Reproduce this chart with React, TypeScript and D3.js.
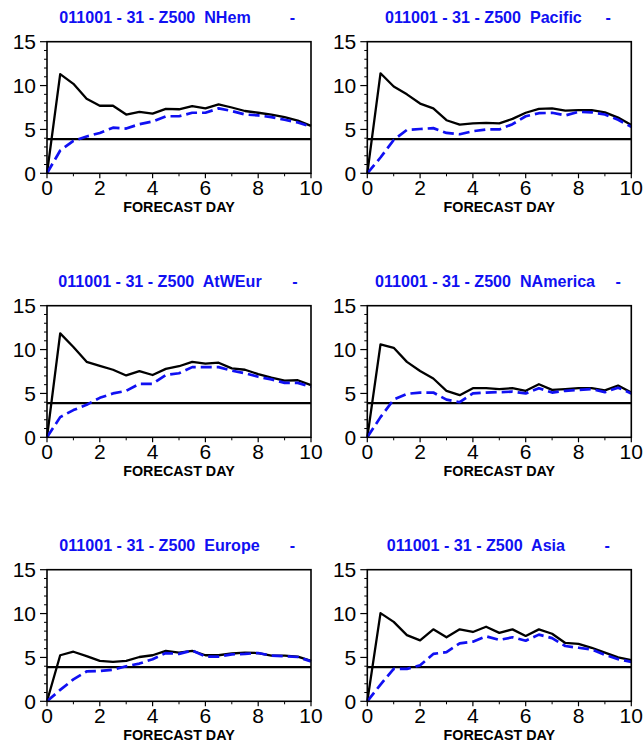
import React from "react";
import * as d3 from "d3";

// forecast days (x values, every half day)
const days = [0, 0.5, 1, 1.5, 2, 2.5, 3, 3.5, 4, 4.5, 5, 5.5, 6, 6.5, 7, 7.5, 8, 8.5, 9, 9.5, 10];

const regions = ["NHem", "Pacific", "AtWEur", "NAmerica", "Europe", "Asia"];

// solid black curve per region
const nhemSolid = [0, 11.3, 10.2, 8.5, 7.7, 7.7, 6.7, 7.0, 6.8, 7.35, 7.3, 7.65, 7.4, 7.85, 7.5, 7.1, 6.9, 6.7, 6.4, 6.0, 5.4];
const pacificSolid = [0, 11.4, 9.9, 9.0, 7.95, 7.4, 6.05, 5.55, 5.7, 5.75, 5.7, 6.2, 6.9, 7.35, 7.4, 7.15, 7.2, 7.2, 6.95, 6.35, 5.5];
const atweurSolid = [0, 11.85, 10.3, 8.6, 8.15, 7.7, 7.05, 7.55, 7.1, 7.8, 8.1, 8.6, 8.4, 8.5, 7.85, 7.7, 7.2, 6.8, 6.45, 6.5, 5.95];
const namericaSolid = [0, 10.6, 10.2, 8.6, 7.55, 6.7, 5.3, 4.8, 5.6, 5.6, 5.5, 5.6, 5.3, 6.05, 5.4, 5.5, 5.6, 5.6, 5.35, 5.9, 5.1];
const europeSolid = [0, 5.25, 5.65, 5.15, 4.6, 4.5, 4.6, 5.05, 5.25, 5.75, 5.55, 5.75, 5.25, 5.25, 5.45, 5.55, 5.5, 5.2, 5.2, 5.1, 4.6];
const asiaSolid = [0, 10.05, 9.05, 7.55, 6.95, 8.2, 7.3, 8.2, 7.9, 8.5, 7.8, 8.2, 7.45, 8.2, 7.7, 6.65, 6.55, 6.1, 5.55, 5.0, 4.7];

// dashed blue curve per region
const nhemDashed = [0, 2.6, 3.7, 4.2, 4.6, 5.2, 5.1, 5.6, 5.9, 6.5, 6.5, 6.9, 6.9, 7.4, 7.1, 6.7, 6.6, 6.4, 6.1, 5.8, 5.3];
const pacificDashed = [0, 1.8, 3.8, 4.95, 5.05, 5.15, 4.6, 4.45, 4.8, 5.0, 5.0, 5.6, 6.5, 6.85, 6.9, 6.6, 7.0, 6.95, 6.7, 6.1, 5.3];
const atweurDashed = [0, 2.3, 3.1, 3.7, 4.5, 5.0, 5.3, 6.1, 6.1, 7.1, 7.3, 8.0, 8.0, 8.0, 7.6, 7.3, 6.9, 6.6, 6.2, 6.2, 5.75];
const namericaDashed = [0, 2.3, 4.3, 4.95, 5.1, 5.1, 4.3, 4.0, 5.0, 5.1, 5.15, 5.2, 5.0, 5.6, 5.1, 5.3, 5.4, 5.5, 5.15, 5.65, 5.0];
const europeDashed = [0, 1.3, 2.5, 3.4, 3.45, 3.6, 4.0, 4.3, 4.8, 5.5, 5.4, 5.8, 5.1, 5.1, 5.35, 5.4, 5.5, 5.2, 5.15, 5.05, 4.55];
const asiaDashed = [0, 1.9, 3.7, 3.7, 4.1, 5.4, 5.6, 6.6, 6.8, 7.4, 7.0, 7.3, 6.9, 7.6, 7.2, 6.3, 6.1, 5.9, 5.3, 4.8, 4.5];

const solidSeries = [nhemSolid, pacificSolid, atweurSolid, namericaSolid, europeSolid, asiaSolid];
const dashedSeries = [nhemDashed, pacificDashed, atweurDashed, namericaDashed, europeDashed, asiaDashed];

// reference level drawn across every panel
const refLevel = 3.9;

const xTicks = [0, 2, 4, 6, 8, 10];
const xMinor = [1, 3, 5, 7, 9];
const yTicks = [0, 5, 10, 15];
const yMinor = [1, 2, 3, 4, 6, 7, 8, 9, 11, 12, 13, 14];

// title text offset from panel left, and position of trailing dash
const titleStart = [12.3, 17.7, 11.3, 7.7, 12.3, 19.4];
const titleDash = [245.5, 241, 248, 251, 245.5, 240];

const W = 643;
const H = 744;
const colLeft = [47, 367.3];
const rowTop = [41.7, 305.7, 569.7];
const pw = 264;
const ph = 131.6;
const blue = "#1010f2";

function Panel({ idx }: { idx: number }) {
  const left = colLeft[idx % 2];
  const top = rowTop[Math.floor(idx / 2)];
  const x = d3.scaleLinear().domain([0, 10]).range([0, pw]);
  const y = d3.scaleLinear().domain([0, 15]).range([ph, 0]);
  const line = d3
    .line<number>()
    .x((_, i) => x(days[i]))
    .y((d) => y(d));

  return (
    <g transform={`translate(${left},${top})`}>
      {/* title */}
      <text
        x={titleStart[idx]}
        y={-18.7}
        fill={blue}
        fontWeight="bold"
        fontSize={16.1}
        style={{ whiteSpace: "pre" }}
      >
        {`011001 - 31 - Z500  ${regions[idx]}`}
      </text>
      <text x={titleDash[idx]} y={-18.7} fill={blue} fontWeight="bold" fontSize={16.1} textAnchor="middle">
        -
      </text>

      {/* y ticks */}
      {yMinor.map((t) => (
        <line key={"ym" + t} x1={-3} x2={0} y1={y(t)} y2={y(t)} stroke="#000" strokeWidth={1} />
      ))}
      {yTicks.map((t) => (
        <g key={"y" + t}>
          <line x1={-7} x2={0} y1={y(t)} y2={y(t)} stroke="#000" strokeWidth={1.2} />
          <text x={-11} y={y(t) + 7.5} textAnchor="end" fontSize={21}>
            {t}
          </text>
        </g>
      ))}

      {/* x ticks */}
      {xMinor.map((t) => (
        <line key={"xm" + t} x1={x(t)} x2={x(t)} y1={ph} y2={ph + 3} stroke="#000" strokeWidth={1} />
      ))}
      {xTicks.map((t) => (
        <g key={"x" + t}>
          <line x1={x(t)} x2={x(t)} y1={ph} y2={ph + 5} stroke="#000" strokeWidth={1.2} />
          <text x={x(t)} y={ph + 22} textAnchor="middle" fontSize={21}>
            {t}
          </text>
        </g>
      ))}
      <text x={pw / 2} y={ph + 39.2} textAnchor="middle" fontWeight="bold" fontSize={14.3}>
        FORECAST DAY
      </text>

      {/* curves */}
      <line x1={0} x2={pw} y1={y(refLevel)} y2={y(refLevel)} stroke="#000" strokeWidth={2.4} />
      <path d={line(solidSeries[idx]) ?? ""} fill="none" stroke="#000" strokeWidth={2.3} strokeLinejoin="round" />
      <path
        d={line(dashedSeries[idx]) ?? ""}
        fill="none"
        stroke={blue}
        strokeWidth={2.7}
        strokeDasharray="11,5"
        strokeLinejoin="round"
      />

      {/* frame */}
      <rect x={0} y={0} width={pw} height={ph} fill="none" stroke="#000" strokeWidth={1.6} />
    </g>
  );
}

export default function App() {
  return (
    <svg
      width={W}
      height={H}
      style={{ position: "absolute", left: 0, top: 0, background: "#fff" }}
      fontFamily="'Liberation Sans', Arial, sans-serif"
    >
      <rect width={W} height={H} fill="#fff" />
      {regions.map((_, i) => (
        <Panel key={i} idx={i} />
      ))}
    </svg>
  );
}
